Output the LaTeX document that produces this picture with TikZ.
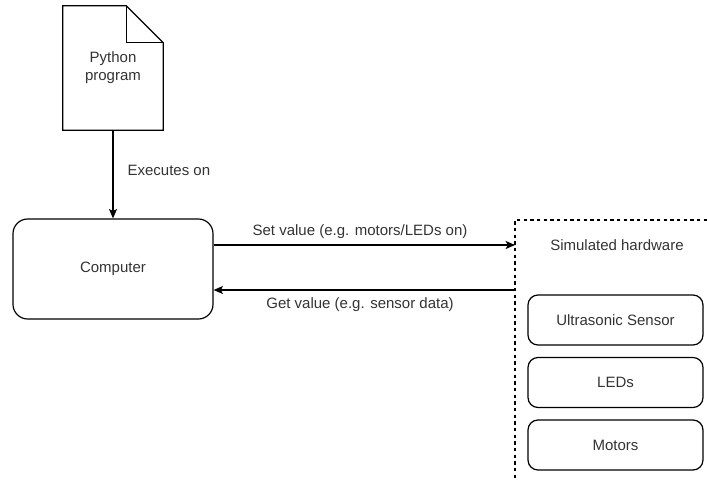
\documentclass[tikz,border=0pt]{standalone}
\usepackage{fontspec}
\setmainfont{Liberation Sans}
\usetikzlibrary{arrows.meta}
\definecolor{txt}{HTML}{333333}
\begin{document}
\begin{tikzpicture}[x=0.75pt,y=-0.75pt,
  every node/.style={font=\fontsize{11.25}{13.5}\selectfont, text=txt},
  line/.style={draw=black, line width=0.9pt},
  arr/.style={line, -{Stealth[length=7pt,width=6pt,inset=1.5pt]}},
  compbox/.style={line, rounded corners=11pt, minimum width=150pt, minimum height=75pt},
  hwbox/.style={line, rounded corners=7.5pt, minimum width=131.25pt, minimum height=37.5pt},
  lbl/.style={inner sep=1pt}
]
\useasboundingbox (0,0) rectangle (707,482);

% document
\node[minimum width=75pt, minimum height=93pt, align=center] (doc) at (113,68) {Python\\program};
\draw[line, line join=miter] (doc.north west) -- ([xshift=-27.75pt]doc.north east)
  -- ([yshift=-27.75pt]doc.north east) -- (doc.south east) -- (doc.south west) -- cycle;
\draw[line] ([xshift=-27.75pt]doc.north east) -- ([xshift=-27.75pt,yshift=-27.75pt]doc.north east)
  -- ([yshift=-27.75pt]doc.north east);

% computer
\node[compbox] (comp) at (113,269) {Computer};

% executes arrow
\draw[arr] (doc.south) -- (comp.north);
\node[lbl, anchor=west] (exe) at (126,170) {Executes on};

% container
\coordinate (ctl) at (515,220);
\coordinate (ctr) at (707,220);
\coordinate (cbl) at (515,480);
\draw[line, dash pattern=on 2.5pt off 2.5pt] (ctr) -- (ctl) -- (cbl);
\node (simhw) at (617,245) {Simulated hardware};

\coordinate (cSet) at (515,245);
\coordinate (cGet) at (515,290);
\draw[arr] (comp.east |- cSet) -- (cSet);
\draw[arr] (cGet) -- (comp.east |- cGet);
\node[lbl] (setl) at (360,232) {Set value (e.g. motors/LEDs on)};
\node[lbl] (getl) at (360,305) {Get value (e.g. sensor data)};

% hardware boxes
\node[hwbox] (us) at (615.5,320) {Ultrasonic Sensor};
\node[hwbox] (led) at (615.5,382.5) {LEDs};
\node[hwbox] (mot) at (615.5,445) {Motors};
\end{tikzpicture}
\end{document}
